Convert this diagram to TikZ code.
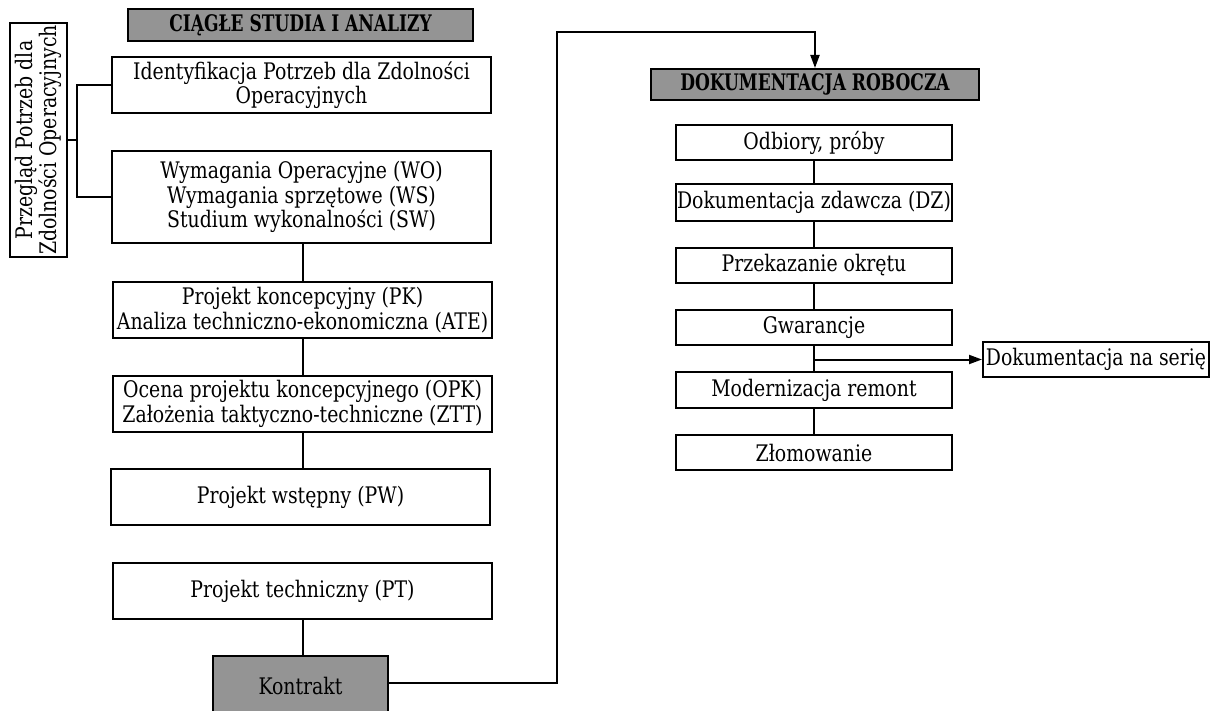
\documentclass[tikz,border=0pt]{standalone}
\usepackage{fontspec}
\setmainfont{DejaVu Serif Condensed}[FakeStretch=0.92]
\newfontfamily\headfont{DejaVu Serif Condensed}[FakeStretch=0.83]
\usetikzlibrary{arrows.meta}
\definecolor{headgray}{HTML}{949494}
\begin{document}
\begin{tikzpicture}[x=0.5pt,y=-0.5pt,
  box/.style={draw=black, line width=1pt, fill=white, align=center, inner sep=0pt,
    font=\fontsize{11.4}{12.2}\selectfont},
  head/.style={box, fill=headgray, font=\headfont\bfseries\fontsize{11.4}{12.2}\selectfont},
  link/.style={line width=1pt},
  arrowlink/.style={link, -{Triangle[length=6.5pt,width=4.5pt]}}]
\useasboundingbox (0,0) rectangle (1210,711);

% left column: studies and design stages
\node[head, minimum width=172.5pt, minimum height=16pt] (ciagle) at (300.5,25) {CIĄGŁE STUDIA I ANALIZY};
\node[box, minimum width=117pt, minimum height=28.5pt, rotate=90] (przeglad) at (38.5,140)
  {Przegląd Potrzeb dla\\Zdolności Operacyjnych};
\node[box, minimum width=189.5pt, minimum height=28pt] (ident) at (301.5,85)
  {Identyfikacja Potrzeb dla Zdolności\\Operacyjnych};
\node[box, minimum width=189.5pt, minimum height=46pt] (wo) at (301.5,197)
  {Wymagania Operacyjne (WO)\\Wymagania sprzętowe (WS)\\Studium wykonalności (SW)};
\node[box, minimum width=189.5pt, minimum height=28pt] (pk) at (302.5,310)
  {Projekt koncepcyjny (PK)\\Analiza techniczno-ekonomiczna (ATE)};
\node[box, minimum width=189.5pt, minimum height=28pt] (opk) at (302.5,404)
  {Ocena projektu koncepcyjnego (OPK)\\Założenia taktyczno-techniczne (ZTT)};
\node[box, minimum width=189.5pt, minimum height=28pt] (pw) at (300.5,497)
  {Projekt wstępny (PW)};
\node[box, minimum width=189.5pt, minimum height=28pt] (pt) at (302.5,591)
  {Projekt techniczny (PT)};
\node[box, fill=headgray, minimum width=87.5pt, minimum height=30pt] (kontrakt) at (300.5,686)
  {Kontrakt};

% right column: working documentation
\node[head, minimum width=164pt, minimum height=15.5pt] (dok) at (815,84.5) {DOKUMENTACJA ROBOCZA};
\node[box, minimum width=138pt, minimum height=17.5pt] (odb) at (814,142.5) {Odbiory, próby};
\node[box, minimum width=138pt, minimum height=18.5pt] (dz) at (814,202.5) {Dokumentacja zdawcza (DZ)};
\node[box, minimum width=138pt, minimum height=17.5pt] (prz) at (814,265.5) {Przekazanie okrętu};
\node[box, minimum width=138pt, minimum height=17.5pt] (gw) at (814,327.5) {Gwarancje};
\node[box, minimum width=138pt, minimum height=18pt] (mod) at (814,390) {Modernizacja remont};
\node[box, minimum width=138pt, minimum height=17.5pt] (zl) at (814,452.5) {Złomowanie};
\node[box, minimum width=113pt, minimum height=17.5pt] (seria) at (1096,359.5) {Dokumentacja na serię};

% bracket joining the review box to the first two stages
\draw[link] (ident.west) -- ++(-34,0) coordinate (br1) |- (wo.west);
\draw[link] (przeglad.south) -- (br1 |- przeglad.south);

% left column links
\draw[link] (pk.north |- wo.south) -- (pk.north);
\draw[link] (pk.south) -- (opk.north);
\draw[link] (opk.south) -- (opk.south |- pw.north);
\draw[link] (pt.south) -- (pt.south |- kontrakt.north);

% contract leads into the working documentation
\coordinate (up) at (557,32);
\draw[arrowlink] (kontrakt.east |- 0,683) -| (up) -| (dok.north);

% right column links
\draw[link] (odb.south) -- (dz.north);
\draw[link] (dz.south) -- (prz.north);
\draw[link] (prz.south) -- (gw.north);
\draw[link] (gw.south) -- (mod.north);
\draw[link] (zl.north) -- (mod.south);
\coordinate (split) at (gw.south |- seria.west);
\draw[arrowlink] (split) -- (seria.west);
\end{tikzpicture}
\end{document}
